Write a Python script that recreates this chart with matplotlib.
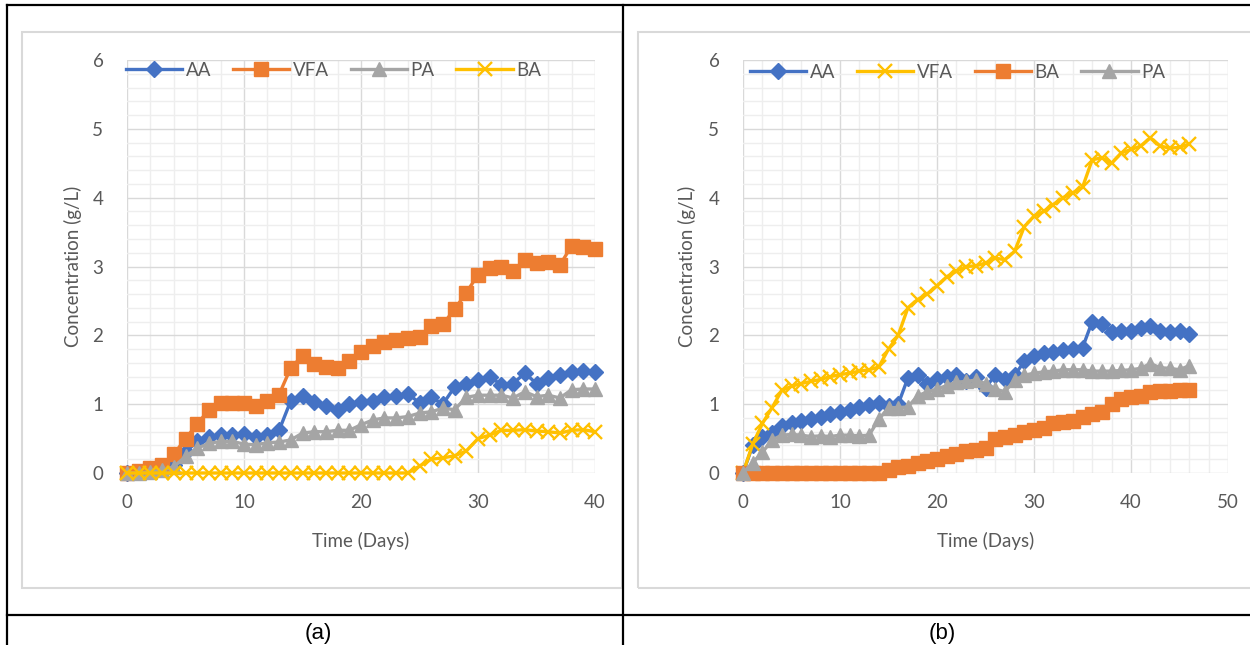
import matplotlib
matplotlib.use("Agg")
import matplotlib.pyplot as plt
from matplotlib.lines import Line2D
from matplotlib.patches import Rectangle

W, H = 1250, 645

# ---- data, panel (a)
days_a = list(range(41))
aa_a = [0.0, 0.02, 0.04, 0.06, 0.12, 0.3, 0.46, 0.53, 0.55, 0.55, 0.56, 0.52, 0.55, 0.62,
        1.05, 1.12, 1.03, 0.97, 0.92, 1.0, 1.03, 1.05, 1.1, 1.12, 1.15, 1.02, 1.1, 1.0,
        1.25, 1.3, 1.35, 1.4, 1.28, 1.3, 1.45, 1.3, 1.38, 1.43, 1.47, 1.48, 1.47]
vfa_a = [0.0, 0.03, 0.07, 0.12, 0.27, 0.5, 0.71, 0.92, 1.02, 1.02, 1.01, 0.97, 1.05, 1.14,
         1.53, 1.7, 1.58, 1.54, 1.53, 1.62, 1.76, 1.85, 1.91, 1.93, 1.96, 1.98, 2.14, 2.16,
         2.38, 2.62, 2.88, 2.98, 2.99, 2.93, 3.1, 3.05, 3.06, 3.02, 3.3, 3.28, 3.25]
pa_a = [0.0, 0.0, 0.02, 0.04, 0.09, 0.24, 0.36, 0.43, 0.46, 0.46, 0.42, 0.41, 0.44, 0.45,
        0.48, 0.58, 0.6, 0.6, 0.62, 0.62, 0.7, 0.77, 0.8, 0.8, 0.82, 0.87, 0.89, 0.94,
        0.92, 1.1, 1.13, 1.13, 1.13, 1.09, 1.18, 1.11, 1.13, 1.09, 1.21, 1.22, 1.22]
ba_a = [0.0, 0.0, 0.0, 0.0, 0.0, 0.0, 0.0, 0.0, 0.0, 0.0, 0.0, 0.0, 0.0, 0.0,
        0.0, 0.0, 0.0, 0.0, 0.0, 0.0, 0.0, 0.0, 0.0, 0.0, 0.0, 0.1, 0.2, 0.22,
        0.25, 0.32, 0.5, 0.55, 0.62, 0.62, 0.63, 0.61, 0.6, 0.58, 0.62, 0.63, 0.6]

# ---- data, panel (b)
days_b = list(range(47))
aa_b = [0.0, 0.4, 0.52, 0.58, 0.68, 0.72, 0.76, 0.78, 0.82, 0.85, 0.88, 0.92, 0.96, 0.99,
        1.02, 0.98, 1.0, 1.38, 1.43, 1.3, 1.36, 1.39, 1.42, 1.34, 1.4, 1.24, 1.42, 1.36,
        1.42, 1.62, 1.7, 1.75, 1.76, 1.78, 1.8, 1.82, 2.2, 2.17, 2.05, 2.07, 2.07, 2.1,
        2.14, 2.07, 2.05, 2.06, 2.02]
vfa_b = [0.0, 0.42, 0.72, 0.95, 1.2, 1.26, 1.3, 1.33, 1.36, 1.4, 1.43, 1.45, 1.48, 1.5,
         1.54, 1.8, 2.0, 2.4, 2.52, 2.6, 2.72, 2.85, 2.93, 3.0, 3.01, 3.05, 3.12, 3.1,
         3.22, 3.58, 3.73, 3.8, 3.9, 4.0, 4.07, 4.15, 4.55, 4.58, 4.5, 4.65, 4.7, 4.75,
         4.87, 4.75, 4.72, 4.73, 4.78]
ba_b = [0.0, 0.0, 0.0, 0.0, 0.0, 0.0, 0.0, 0.0, 0.0, 0.0, 0.0, 0.0, 0.0, 0.0,
        0.0, 0.05, 0.08, 0.1, 0.14, 0.18, 0.2, 0.24, 0.28, 0.32, 0.34, 0.36, 0.5, 0.53,
        0.55, 0.6, 0.62, 0.65, 0.72, 0.74, 0.76, 0.82, 0.85, 0.88, 1.0, 1.08, 1.1, 1.12,
        1.18, 1.19, 1.19, 1.2, 1.2]
pa_b = [0.0, 0.15, 0.3, 0.48, 0.55, 0.56, 0.55, 0.53, 0.54, 0.53, 0.55, 0.55, 0.54, 0.55,
        0.78, 0.95, 0.95, 0.96, 1.12, 1.18, 1.22, 1.27, 1.32, 1.33, 1.35, 1.3, 1.22, 1.18,
        1.35, 1.42, 1.45, 1.47, 1.48, 1.5, 1.5, 1.5, 1.48, 1.48, 1.48, 1.49, 1.5, 1.52,
        1.59, 1.53, 1.52, 1.5, 1.56]

BLUE, ORANGE, GREY, YELLOW = "#4472C4", "#ED7D31", "#A5A5A5", "#FFC000"
TXT = "#595959"
FONT = "Lato"
FS = 13.5

STYLE = {
    "AA": dict(color=BLUE, marker="D", ms=8.5),
    "SQ": dict(color=ORANGE, marker="s", ms=9.5),
    "PA": dict(color=GREY, marker="^", ms=10),
    "X": dict(color=YELLOW, marker="x", ms=9.5, mew=1.7),
}

plt.rcParams["font.family"] = [FONT, "DejaVu Sans"]


def fx(x):
    return x / W


def fy(y):
    return 1 - y / H


def box(px_left, px_top, px_right, px_bottom):
    return [fx(px_left), fy(px_bottom), (px_right - px_left) / W, (px_bottom - px_top) / H]


def setup_axes(ax, xmax):
    ax.set_xlim(0, xmax)
    ax.set_ylim(0, 6)
    ax.set_xticks(range(0, xmax + 1, 10))
    ax.set_xticks(range(0, xmax + 1, 2), minor=True)
    ax.set_yticks(range(0, 7))
    ax.set_yticks([i / 5 for i in range(31)], minor=True)
    ax.grid(which="minor", color="#eeeeee", lw=1.0, zorder=0)
    ax.grid(which="major", color="#d9d9d9", lw=1.0, zorder=0)
    ax.set_axisbelow(True)
    for s in ax.spines.values():
        s.set_visible(False)
    ax.tick_params(which="both", length=0, labelsize=FS, labelcolor=TXT)
    ax.tick_params(axis="x", pad=15)
    ax.tick_params(axis="y", pad=17)
    ax.set_xlabel("Time (Days)", fontsize=FS, color=TXT)
    ax.set_ylabel("Concentration (g/L)", fontsize=FS, color=TXT)
    ax.xaxis.set_label_coords(0.5, -0.143)
    ax.yaxis.set_label_coords(-0.097, 0.5)


def draw(ax, x, y, label, st):
    ax.plot(x, y, lw=2.4, label=label, clip_on=False, zorder=3,
            color=st["color"], marker=st["marker"], ms=st["ms"],
            mew=st.get("mew", 1.0), mec=st["color"], mfc=st["color"])


def legend(ax, x_px, y_px):
    ax.legend(loc="center left", bbox_to_anchor=(fx(x_px), fy(y_px)),
              bbox_transform=ax.figure.transFigure, ncol=4, frameon=False,
              fontsize=FS, labelcolor=TXT, handlelength=3.0, handletextpad=0.2,
              columnspacing=1.15, borderpad=0, borderaxespad=0)


fig = plt.figure(figsize=(W / 100, H / 100), dpi=100)

# chart frames
for l, t, r, b in [(22, 32, 622, 588), (638, 32, 1252, 588)]:
    fig.patches.append(Rectangle((fx(l), fy(b)), (r - l) / W, (b - t) / H,
                                 transform=fig.transFigure, fill=False,
                                 ec="#d9d9d9", lw=1.5))

ax1 = fig.add_axes(box(127, 60, 595, 473))
setup_axes(ax1, 40)
draw(ax1, days_a, aa_a, "AA", STYLE["AA"])
draw(ax1, days_a, vfa_a, "VFA", STYLE["SQ"])
draw(ax1, days_a, pa_a, "PA", STYLE["PA"])
draw(ax1, days_a, ba_a, "BA", STYLE["X"])
legend(ax1, 126, 70)

ax2 = fig.add_axes(box(743, 60, 1228, 473))
setup_axes(ax2, 50)
draw(ax2, days_b, aa_b, "AA", STYLE["AA"])
draw(ax2, days_b, vfa_b, "VFA", STYLE["X"])
draw(ax2, days_b, ba_b, "BA", STYLE["SQ"])
draw(ax2, days_b, pa_b, "PA", STYLE["PA"])
legend(ax2, 750, 72)

# table lines
lines = [((7, 1250), (5, 5)), ((7, 7), (5, 645)), ((623, 623), (5, 645)),
         ((7, 1250), (615, 615))]
for xs, ys in lines:
    fig.add_artist(Line2D([fx(v) for v in xs], [fy(v) for v in ys], color="black",
                          lw=1.6, transform=fig.transFigure))

fig.text(fx(318), fy(634), "(a)", ha="center", va="center", fontsize=16,
         family="Liberation Sans", color="black")
fig.text(fx(942), fy(634), "(b)", ha="center", va="center", fontsize=16,
         family="Liberation Sans", color="black")

fig.savefig("out.png", dpi=100)
